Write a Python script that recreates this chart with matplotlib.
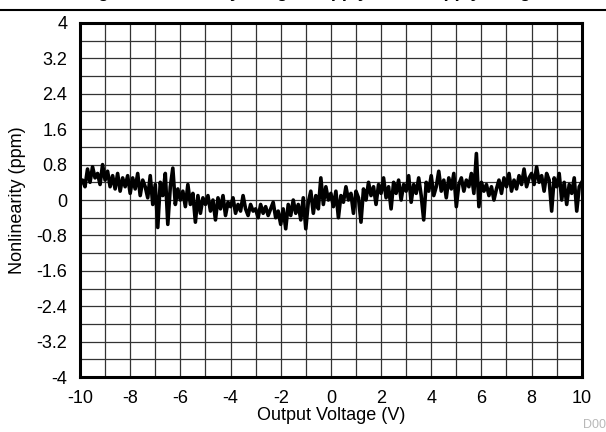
import numpy as np
import matplotlib
matplotlib.use("Agg")
import matplotlib.pyplot as plt
from matplotlib.lines import Line2D

plt.rcParams['font.family'] = ['Liberation Sans', 'DejaVu Sans']
plt.rcParams['axes.unicode_minus'] = False

# output voltage sweep, -10 V to 10 V in 0.1 V steps
volts = np.linspace(-10, 10, 201)

# nonlinearity (ppm), one row per volt
nonlin = [
    0.35, 0.45, 0.3, 0.7, 0.4, 0.75, 0.5, 0.6, 0.35, 0.8,
    0.45, 0.65, 0.3, 0.55, 0.25, 0.6, 0.2, 0.5, 0.3, 0.55,
    0.15, 0.5, 0.25, 0.6, 0.1, 0.45, 0.3, 0.05, 0.55, -0.1,
    0.35, -0.62, 0.4, 0.1, 0.6, -0.55, 0.3, 0.72, -0.1, 0.25,
    0.0, 0.2, -0.15, 0.35, -0.1, 0.15, -0.5, 0.1, -0.3, 0.05,
    -0.1, 0.1, -0.25, 0.0, -0.45, 0.05, -0.2, 0.1, -0.35, -0.05,
    -0.15, 0.05, -0.3, -0.1, -0.25, 0.1, -0.2, -0.35, -0.1, -0.25,
    -0.2, -0.4, -0.1, -0.3, -0.15, -0.35, -0.2, -0.05, -0.4, -0.25,
    -0.55, -0.2, -0.65, -0.1, -0.35, 0.0, -0.3, -0.1, -0.45, 0.05,
    -0.65, -0.05, 0.2, -0.3, 0.1, -0.2, 0.5, -0.1, 0.3, 0.0,
    0.15, -0.15, 0.2, -0.4, 0.1, -0.05, 0.3, 0.0, 0.15, -0.3,
    0.2, 0.05, -0.5, 0.25, 0.0, 0.4, 0.1, 0.3, -0.1, 0.35,
    0.15, 0.5, 0.05, 0.3, -0.2, 0.4, 0.15, 0.45, 0.0, 0.35,
    0.2, 0.55, -0.05, 0.35, 0.15, 0.5, 0.1, -0.45, 0.4, 0.2,
    0.55, 0.1, 0.3, 0.65, 0.2, 0.45, 0.05, 0.5, 0.25, 0.6,
    -0.15, 0.35, 0.5, 0.2, 0.45, 0.3, 0.6, 0.15, 1.05, -0.15,
    0.4, 0.2, 0.35, 0.1, 0.3, 0.0, 0.25, 0.45, 0.15, 0.5,
    0.3, 0.6, 0.2, 0.45, 0.25, 0.55, 0.35, 0.7, 0.3, 0.5,
    0.6, 0.35, 0.75, 0.4, 0.55, 0.2, 0.6, 0.45, -0.25, 0.5,
    0.3, 0.6, 0.0, 0.4, -0.1, 0.35, 0.15, 0.5, -0.25, 0.3,
    0.4,
]

x_ticks = [-10, -8, -6, -4, -2, 0, 2, 4, 6, 8, 10]
y_ticks = [-4, -3.2, -2.4, -1.6, -0.8, 0, 0.8, 1.6, 2.4, 3.2, 4]
y_labels = ['-4', '-3.2', '-2.4', '-1.6', '-0.8', '0', '0.8', '1.6', '2.4', '3.2', '4']

fig = plt.figure(figsize=(6.06, 4.32), dpi=100)
ax = fig.add_axes([0.132, 0.127, 0.828, 0.82])

ax.plot(volts, nonlin, color='black', lw=2.6, zorder=3)

ax.set_xlim(-10, 10)
ax.set_ylim(-4, 4)
ax.set_xticks(x_ticks)
ax.set_xticks(np.arange(-10, 10.5, 1), minor=True)
ax.set_yticks(y_ticks)
ax.set_yticklabels(y_labels)
ax.set_yticks(np.arange(-4, 4.2, 0.4), minor=True)
ax.grid(which='both', color='#333333', lw=0.9)
ax.tick_params(which='both', length=0, labelsize=13)
ax.tick_params(axis='x', pad=9)
ax.tick_params(axis='y', pad=9)
for s in ax.spines.values():
    s.set_linewidth(2.2)

ax.set_xlabel('Output Voltage (V)', fontsize=13, labelpad=0)
ax.set_ylabel('Nonlinearity (ppm)', fontsize=13, labelpad=8)

# title sits above the crop, only descenders show
fig.text(0.5, 1.0065, 'Integral Nonlinearity, Single Supply, Dual Supply Range',
         ha='center', va='baseline', fontsize=13, fontweight='bold')
fig.add_artist(Line2D([0, 1], [0.977, 0.977], color='black', lw=1.5,
                      transform=fig.transFigure))

fig.text(0.962, 0.002, 'D001', fontsize=9, color='#b8b8b8', ha='left', va='bottom')

fig.savefig('out.png', dpi=100)
